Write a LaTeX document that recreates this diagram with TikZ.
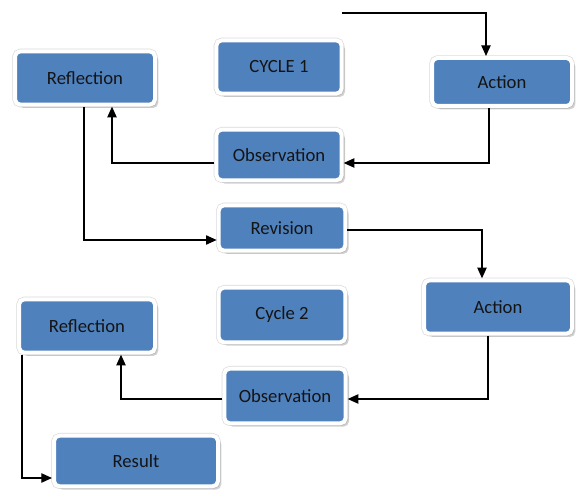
\documentclass[tikz,border=0pt]{standalone}
\usepackage{fontspec}
\setmainfont{Carlito}
\usetikzlibrary{arrows.meta,calc,shadows}
\definecolor{boxblue}{HTML}{4F81BD}

\begin{document}
\begin{tikzpicture}[x=0.75pt, y=-0.75pt, >={Triangle[length=8pt,width=7pt]},
    box/.style={rectangle, rounded corners=4pt, fill=boxblue, draw=white, line width=3pt,
        preaction={draw=black!15, line width=4pt},
        drop shadow={shadow xshift=2.5pt, shadow yshift=-2.5pt, opacity=0.3, fill=black!60},
        inner sep=0pt, text=black!92, font=\fontsize{14}{16}\selectfont},
    link/.style={->, line width=0.9pt}]
    \useasboundingbox (0,0) rectangle (576,491);

    % cycle 1
    \node[box, minimum width=105pt, minimum height=40pt] (refl1) at (85,78) {Reflection};
    \node[box, minimum width=94pt, minimum height=40pt] (cyc1) at (279,67) {CYCLE 1};
    \node[box, minimum width=105pt, minimum height=36pt] (act1) at (502,82) {Action};
    \node[box, minimum width=94pt, minimum height=38pt] (obs1) at (279,155) {Observation};
    \node[box, minimum width=95pt, minimum height=34pt] (rev) at (282,228) {Revision};

    % cycle 2
    \node[box, minimum width=111pt, minimum height=40pt] (act2) at (498,307) {Action};
    \node[box, minimum width=95pt, minimum height=41pt] (cyc2) at (282,315) {Cycle 2};
    \node[box, minimum width=102pt, minimum height=40pt] (refl2) at (87,326) {Reflection};
    \node[box, minimum width=91pt, minimum height=41pt] (obs2) at (285,396) {Observation};
    \node[box, minimum width=123pt, minimum height=38pt] (result) at (136,461) {Result};

    % connectors
    \coordinate (start) at (342,13);
    \draw[link] (start) -| ($(act1.north)+(-16,0)$);
    \draw[link] ($(act1.south)+(-13,0)$) |- ($(obs1.east)+(0,8)$);
    \draw[link] ($(obs1.west)+(0,8)$) -| ($(refl1.south)+(27,0)$);
    \draw[link] ($(refl1.south)+(-1,0)$) |- ($(rev.west)+(0,12)$);
    \draw[link] ($(rev.east)+(0,2)$) -| ($(act2.north)+(-16,0)$);
    \draw[link] ($(act2.south)+(-10,0)$) |- ($(obs2.east)+(0,3)$);
    \draw[link] ($(obs2.west)+(0,3)$) -| ($(refl2.south)+(34,0)$);
    \draw[link] ($(refl2.south west)+(5,0)$) |- ($(result.west)+(0,17)$);
\end{tikzpicture}
\end{document}
